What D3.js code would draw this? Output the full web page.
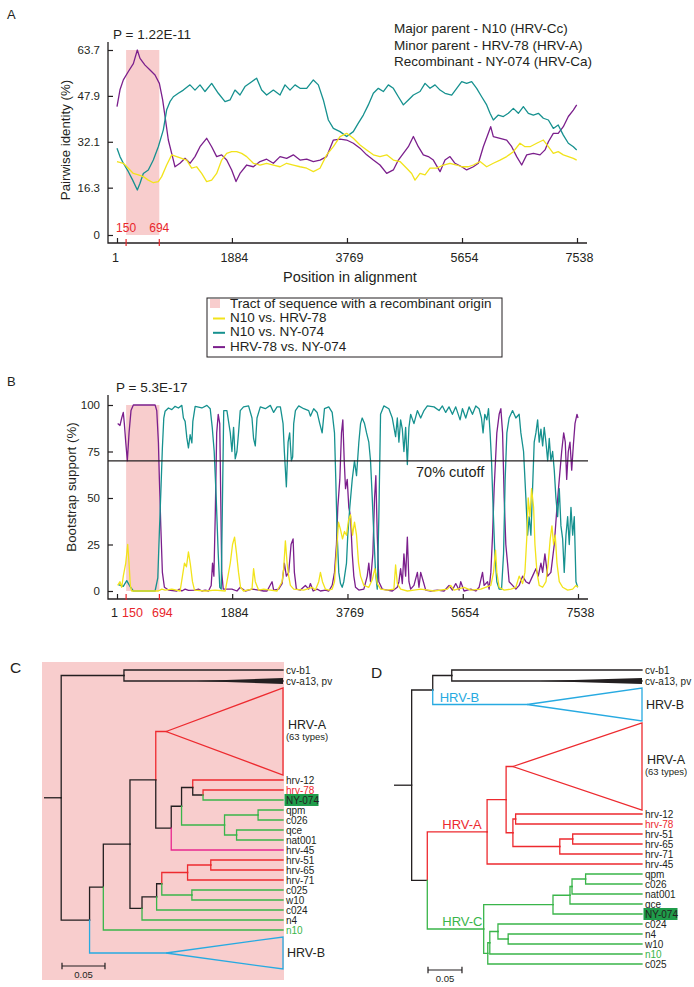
<!DOCTYPE html>
<html><head><meta charset="utf-8">
<script src="https://cdn.jsdelivr.net/npm/d3@7"></script>
<style>body{margin:0;background:#fff}svg{display:block;font-family:"Liberation Sans",Arial,sans-serif}</style>
</head><body><svg id="c" width="694" height="987"></svg>
<script>
// ---------------- DATA ----------------
const positionTicks = [1, 1884, 3769, 5654, 7538];
const tract = [150, 694];
const identityTicks = [0, 16.3, 32.1, 47.9, 63.7];
const bootTicks = [0, 25, 50, 75, 100];
const cutoff = 70;
const seriesNames = ["N10 vs. HRV-78", "N10 vs. NY-074", "HRV-78 vs. NY-074"];
const parentsText = ["Major parent - N10 (HRV-Cc)", "Minor parent - HRV-78 (HRV-A)", "Recombinant - NY-074 (HRV-Ca)"];
const pValueA = "P = 1.22E-11", pValueB = "P = 5.3E-17";

// Panel A: pairwise identity (%) vs position
const idN10_HRV78 = [[1,25.3],[105,24.7],[187,23],[269,21.2],[351,20.7],[432,20.1],[514,18.9],[596,18],[678,18.4],[733,20.1],[815,24.1],[897,27.6],[979,27],[1061,26.4],[1143,25.8],[1224,23],[1306,23.5],[1388,21.2],[1470,18.4],[1552,18.9],[1634,21.2],[1716,25.8],[1798,28.1],[1880,28.7],[1962,28.7],[2044,28.1],[2126,27],[2235,24.7],[2344,24.1],[2453,24.7],[2563,24.1],[2672,23.5],[2781,24.7],[2890,24.1],[3000,23.5],[3109,23],[3218,21.8],[3327,23],[3436,27.6],[3546,30.4],[3655,33.9],[3764,35],[3873,33.3],[3983,31],[4092,29.3],[4201,27.6],[4310,27],[4420,27.6],[4529,25.8],[4638,25.3],[4747,23],[4829,21.2],[4884,18.9],[4966,21.2],[5048,20.7],[5130,23],[5239,23],[5349,24.1],[5457,24.7],[5567,24.1],[5649,23.5],[5758,23.5],[5840,24.1],[5949,25.3],[6058,23.5],[6167,24.7],[6277,25.8],[6386,27],[6495,28.7],[6604,31.6],[6686,30.4],[6768,30.4],[6878,31.6],[6987,32.7],[7069,30.4],[7150,28.1],[7230,28.7],[7314,27.6],[7396,27],[7478,26.4],[7533,25.8]];
const idN10_NY074 = [[1,29.9],[50,27],[105,24.7],[187,21.8],[258,18.9],[334,15.5],[378,17.8],[432,21.2],[514,22.4],[596,25.8],[678,30.4],[760,36.2],[815,43.1],[869,45.9],[924,47.6],[1006,48.8],[1088,49.9],[1197,51.7],[1279,49.9],[1361,51.7],[1443,49.4],[1552,52.2],[1661,48.8],[1771,45.9],[1853,46.5],[1934,49.9],[2016,48.2],[2098,51.1],[2208,52.8],[2289,54],[2371,49.9],[2453,48.2],[2563,49.9],[2672,48.2],[2754,51.7],[2836,49.9],[2918,51.7],[3000,50.5],[3109,50.5],[3218,53.4],[3300,51.7],[3382,46.5],[3464,39.6],[3546,36.7],[3655,35.6],[3764,33.9],[3873,35.6],[3955,38.5],[4037,41.3],[4119,44.8],[4201,48.8],[4283,50.5],[4365,49.4],[4447,51.7],[4529,50.5],[4611,47.6],[4693,44.8],[4775,46.5],[4857,48.2],[4966,49.4],[5048,52.2],[5130,50.5],[5212,51.7],[5294,49.9],[5375,48.8],[5485,48.2],[5567,50.5],[5649,52.8],[5730,52.2],[5812,52.8],[5894,50.5],[5976,47.6],[6058,44.8],[6113,41.9],[6167,39.6],[6249,41.3],[6331,40.8],[6413,41.9],[6495,43.6],[6577,41.9],[6659,44.2],[6741,41.9],[6823,41.3],[6905,41.9],[6987,40.2],[7069,39.6],[7150,36.7],[7230,37.9],[7314,34.4],[7396,31.6],[7478,30.4],[7533,29.3]];
const idHRV78_NY074 = [[1,44.2],[50,50],[105,53.4],[187,56.3],[269,59],[334,63.7],[378,60.8],[460,58.5],[542,56.8],[624,55.1],[695,52.2],[749,46.5],[788,40.8],[842,32.7],[897,28.1],[951,23.5],[1033,24.7],[1115,26.4],[1197,24.7],[1279,27],[1361,30.4],[1470,33.3],[1552,30.4],[1634,27],[1716,27.6],[1798,25.8],[1880,22.4],[1951,18.4],[2016,21.2],[2126,24.1],[2235,23.5],[2344,25.3],[2453,26.1],[2563,24.7],[2672,27],[2781,26.4],[2890,27.6],[3000,25.8],[3109,26.1],[3218,25.3],[3327,25.8],[3436,27],[3546,32.7],[3655,33],[3764,32.7],[3873,31.6],[3983,29.9],[4092,27.6],[4201,25.8],[4310,24.1],[4420,21.2],[4529,22.4],[4611,25.8],[4693,28.1],[4775,30.4],[4857,33.9],[4938,30.4],[5020,27.6],[5102,27],[5184,25.8],[5294,21.8],[5375,25.8],[5457,27],[5539,24.7],[5649,23.5],[5730,22.4],[5840,23.5],[5922,24.7],[6003,30.4],[6085,35],[6124,37.3],[6167,33.9],[6277,33.3],[6386,32.7],[6468,30.4],[6550,27],[6632,24.1],[6714,27.6],[6823,28.1],[6932,27.6],[7014,29.3],[7069,32.1],[7150,35],[7230,35],[7314,37.3],[7396,40.8],[7478,43],[7533,44.8]];

// Panel B: bootstrap support (%) vs position
const bsN10_HRV78 = [[12,3],[50,5],[78,2],[104,8],[144,15],[176,25],[198,15],[219,3],[242,0],[678,0],[733,1],[787,0.5],[897,1],[1033,0],[1071,8],[1104,15],[1136,13],[1169,21],[1202,14],[1235,5],[1268,0.5],[1443,0],[1607,0.5],[1771,0],[1815,8],[1853,15],[1890,25],[1923,29],[1956,20],[1988,10],[2021,2],[2070,0],[2208,1],[2234,12],[2262,5],[2316,0.5],[2398,1],[2508,0.5],[2618,0],[2700,5],[2726,12],[2754,27],[2782,15],[2808,8],[2836,3],[2890,1],[3054,0.5],[3191,2],[3245,0.5],[3299,5],[3327,10],[3360,5],[3409,1],[3463,0.5],[3519,1],[3557,5],[3589,20],[3622,37],[3655,33],[3688,28],[3720,32],[3753,30],[3786,38],[3819,41],[3852,30],[3884,37],[3917,30],[3950,15],[3983,8],[4037,3],[4118,2],[4174,6],[4217,12],[4256,4],[4310,1],[4420,0.5],[4528,1],[4556,14],[4584,4],[4638,1],[4748,0],[4856,0.5],[4966,1],[5184,0],[5403,1],[5457,3],[5511,0.5],[5675,2],[5785,0.5],[5949,1],[6113,3],[6157,10],[6190,22],[6211,10],[6249,2],[6331,0.5],[6441,1],[6522,2],[6576,8],[6632,4],[6670,10],[6703,30],[6724,50],[6752,40],[6779,55],[6812,45],[6834,25],[6867,10],[6904,3],[6960,2],[7014,5],[7051,15],[7084,28],[7112,35],[7139,25],[7166,30],[7194,15],[7232,5],[7287,2],[7369,0.5],[7451,1],[7505,3],[7538,2]];
const bsN10_NY074 = [[22,3.4],[104,2.5],[160,5.6],[214,2.5],[268,0],[624,0],[668,7],[694,32],[722,57],[743,77],[766,93],[787,96.6],[842,98.4],[897,97.5],[951,99.3],[1005,98.4],[1061,99.8],[1087,93],[1115,91.2],[1143,82.3],[1169,76.9],[1197,84],[1225,79.6],[1241,91.2],[1279,99.3],[1389,98.4],[1471,99.8],[1525,98],[1558,88],[1590,75],[1623,50],[1656,20],[1681,2],[1705,1],[1730,60],[1746,97],[1798,97],[1853,85],[1880,75],[1907,88],[1934,71],[1962,75],[1988,85],[2016,97],[2070,99],[2152,99.5],[2208,93],[2234,82],[2262,78],[2290,93],[2344,99],[2426,98],[2508,99.8],[2562,96],[2618,99],[2672,99],[2716,90],[2737,75],[2770,56],[2798,80],[2824,85],[2852,70],[2873,72],[2890,90],[2918,97],[2972,99.5],[3054,98],[3135,97],[3163,94],[3217,98],[3273,96],[3316,90],[3355,85],[3393,98],[3463,99],[3519,96],[3557,85],[3578,60],[3601,30],[3627,10],[3655,4],[3683,2],[3709,5],[3753,15],[3774,30],[3807,45],[3847,60],[3884,70],[3917,62],[3955,80],[3983,90],[4010,93],[4048,90],[4081,85],[4118,80],[4146,70],[4174,50],[4200,30],[4228,10],[4256,1],[4282,40],[4310,95],[4364,99.5],[4446,98],[4502,93],[4556,83],[4584,93],[4610,80],[4638,92],[4666,87],[4692,75],[4720,88],[4748,68],[4774,88],[4802,95],[4856,90],[4912,97],[4966,93],[5020,97],[5075,99.5],[5184,99],[5266,97],[5321,99.5],[5375,96],[5429,99],[5485,95],[5539,99],[5610,92],[5649,98],[5703,93],[5757,99],[5813,95],[5867,99.5],[5921,98],[5960,93],[5986,85],[6014,95],[6047,92],[6075,98],[6101,85],[6124,70],[6150,45],[6178,20],[6211,5],[6249,1],[6288,1],[6321,20],[6347,60],[6375,85],[6412,93],[6468,97],[6522,93],[6576,95],[6604,85],[6648,75],[6686,50],[6714,30],[6740,40],[6768,30],[6795,55],[6822,80],[6850,85],[6878,92],[6904,80],[6932,87],[6960,78],[6986,88],[7014,80],[7042,70],[7068,82],[7095,70],[7123,75],[7150,65],[7177,50],[7205,40],[7232,55],[7259,35],[7287,28],[7313,10],[7341,30],[7369,40],[7395,25],[7423,45],[7451,30],[7477,40],[7505,5],[7533,2]];
const bsHRV78_NY074 = [[12,90],[50,89],[78,93],[104,96],[121,90],[144,80],[170,70],[198,85],[230,97],[268,100],[624,100],[651,97],[678,80],[694,60],[717,35],[743,10],[776,2],[842,0.5],[979,0],[1017,1],[1061,0],[1115,1],[1169,0.3],[1279,0.5],[1333,1],[1389,0],[1443,0.5],[1497,0],[1541,3],[1563,15],[1585,8],[1607,40],[1631,85],[1656,95],[1681,90],[1697,50],[1713,10],[1738,1],[1880,1],[1962,0],[2016,2],[2098,0],[2208,1],[2316,0.5],[2398,0],[2454,0],[2536,5],[2562,0.5],[2644,1],[2700,4],[2737,15],[2770,8],[2808,10],[2847,25],[2880,28],[2901,10],[2934,1],[2999,0.5],[3081,3],[3135,1],[3163,4],[3208,0],[3273,1],[3327,0],[3409,0.5],[3463,0],[3519,3],[3557,10],[3589,25],[3611,45],[3644,60],[3671,85],[3693,92],[3716,70],[3737,55],[3765,60],[3791,45],[3819,40],[3847,20],[3873,8],[3901,2],[3955,0.5],[4037,1],[4092,8],[4118,15],[4146,5],[4184,20],[4212,50],[4233,62],[4256,30],[4282,5],[4338,1],[4420,0.5],[4502,0],[4584,2],[4610,5],[4638,12],[4666,4],[4692,20],[4720,8],[4748,29],[4774,5],[4802,1],[4856,3],[4912,10],[4938,2],[4966,10],[5010,5],[5048,0.5],[5130,0],[5240,0.5],[5348,0],[5430,3],[5485,0.5],[5539,4],[5593,0.5],[5621,5],[5675,0],[5785,1],[5867,0],[5921,2],[5977,10],[6003,3],[6059,5],[6085,1],[6113,10],[6141,30],[6167,55],[6211,85],[6249,95],[6277,98],[6305,85],[6331,50],[6358,25],[6386,15],[6412,5],[6468,3],[6522,1],[6576,3],[6632,8],[6686,5],[6740,4],[6795,8],[6850,12],[6888,8],[6932,15],[6960,10],[6997,20],[7042,8],[7095,10],[7150,25],[7194,45],[7232,60],[7271,75],[7304,85],[7330,80],[7353,60],[7379,75],[7407,80],[7435,65],[7461,78],[7489,90],[7521,95],[7538,93]];

// Panel C tree (node depth d in substitutions/site; leaf row = tip order)
const treeC = {d:0.020, c:[
  {d:0.093, c:[{n:"cv-b1", row:0}, {n:"cv-a13, pv", row:1.1, wedge:0.178}]},
  {d:0.053, c:[
    {d:0.069, c:[
      {d:0.100, c:[
        {d:0.130, c:[
          {clade:"HRV-A", sub:"(63 types)", rows:[1.8,10.5], d:0.142, g:"A"},
          {d:0.148, c:[
            {d:0.160, c:[
              {d:0.173, c:[{n:"hrv-12", row:11, g:"A"},
                {d:0.185, c:[{n:"hrv-78", row:12, g:"A", lab:"A"}, {n:"NY-074", row:13, g:"C", hl:true}]}]},
              {d:0.210, g:"C", c:[
                {d:0.249, g:"C", c:[{n:"qpm", row:14, g:"C"}, {n:"c026", row:15, g:"C"}]},
                {d:0.224, g:"C", c:[{n:"qce", row:16, g:"C"}, {n:"nat001", row:17, g:"C"}]}]}]},
            {n:"hrv-45", row:18, g:"M"}]}]},
        {d:0.114, c:[
          {d:0.131, c:[
            {d:0.137, c:[
              {d:0.167, g:"A", c:[{d:0.194, g:"A", c:[{n:"hrv-51", row:19, g:"A"}, {n:"hrv-65", row:20, g:"A"}]}, {n:"hrv-71", row:21, g:"A"}]},
              {d:0.172, g:"C", c:[{n:"c025", row:22, g:"C"}, {n:"w10", row:23, g:"C"}]}]},
            {n:"c024", row:24, g:"C"}]},
          {n:"n4", row:25, g:"C"}]}]},
      {n:"n10", row:26, g:"C", lab:"C"}]},
    {clade:"HRV-B", rows:[26.7,29.9], d:0.142, g:"B"}]}]};
const tipDepthC = 0.278;

// Panel D tree
const treeD = {d:0.026, c:[
  {d:0.057, c:[
    {d:0.085, c:[{n:"cv-b1", row:0}, {n:"cv-a13, pv", row:1.1, wedge:0.215}]},
    {clade:"HRV-B", rows:[1.8,5.1], d:0.196, g:"B", bl:"HRV-B"}]},
  {d:0.049, c:[
    {d:0.137, g:"A", bl:"HRV-A", c:[
      {d:0.165, g:"A", c:[
        {clade:"HRV-A", sub:"(63 types)", rows:[5.3,14.0], d:0.175, g:"A"},
        {d:0.175, g:"A", c:[
          {d:0.179, g:"A", c:[{n:"hrv-12", row:14.4, g:"A"}, {n:"hrv-78", row:15.4, g:"A", lab:"A"}]},
          {d:0.244, g:"A", c:[{d:0.263, g:"A", c:[{n:"hrv-51", row:16.4, g:"A"}, {n:"hrv-65", row:17.4, g:"A"}]}, {n:"hrv-71", row:18.4, g:"A"}]}]}]},
      {n:"hrv-45", row:19.4, g:"A"}]},
    {d:0.132, g:"C", bl:"HRV-C", c:[
      {d:0.234, g:"C", c:[
        {d:0.259, g:"C", c:[
          {d:0.262, g:"C", c:[{d:0.282, g:"C", c:[{n:"qpm", row:20.4, g:"C"}, {n:"c026", row:21.4, g:"C"}]}, {n:"nat001", row:22.4, g:"C"}]},
          {n:"qce", row:23.4, g:"C"}]},
        {n:"NY-074", row:24.4, g:"C", hl:true}]},
      {d:0.138, g:"C", c:[
        {d:0.141, g:"C", c:[
          {d:0.153, g:"C", c:[{n:"c024", row:25.4, g:"C"}, {d:0.168, g:"C", c:[{n:"n4", row:26.4, g:"C"}, {n:"w10", row:27.4, g:"C"}]}]},
          {n:"n10", row:28.4, g:"C", lab:"C"}]},
        {n:"c025", row:29.4, g:"C"}]}]}]}]};
const tipDepthD = 0.365;
const scaleBarLen = 0.05;

// ---------------- STYLE ----------------
const PINK = "#f8cdcd";
const INK = "#231f20";
const lineColors = ["#f2e31b", "#16918f", "#7b1f8c"];
const groupColor = {k:INK, A:"#ed2a2f", B:"#27aae1", C:"#3ab54a", M:"#e8288e"};
const HL = "#1f9c4a";

const svg = d3.select("#c");
svg.append("rect").attr("width",694).attr("height",987).attr("fill","#fff");

function txt(g, x, y, s, size, opts={}) {
  const t = g.append("text").attr("x",x).attr("y",y).text(s)
    .attr("font-size",size).attr("fill",opts.fill||INK);
  if (opts.anchor) t.attr("text-anchor",opts.anchor);
  if (opts.dy) t.attr("dy",opts.dy);
  return t;
}
function styleAxis(g, size) {
  g.select(".domain").remove();
  g.attr("font-family",null).attr("font-size",null);
  g.selectAll("line").attr("stroke",INK).attr("stroke-width",1.2);
  g.selectAll("text").attr("font-size",size).attr("fill",INK);
}
const fmtInt = d3.format("d");

// ---------------- PANEL A ----------------
const xA = d3.scaleLinear().domain([1,7538]).range([117,577]);
const yA = d3.scaleLinear().domain([0,63.7]).range([235,50]);
const gA = svg.append("g");
gA.append("rect").attr("x",xA(tract[0])).attr("width",xA(tract[1])-xA(tract[0]))
  .attr("y",yA(63.7)).attr("height",yA(0)-yA(63.7)).attr("fill",PINK);
const lineA = d3.line().x(d=>xA(d[0])).y(d=>yA(d[1]));
[[idHRV78_NY074,2],[idN10_NY074,1],[idN10_HRV78,0]].forEach(([s,i])=>{
  gA.append("path").attr("d",lineA(s)).attr("fill","none").attr("stroke",lineColors[i])
    .attr("stroke-width",1.3).attr("stroke-linejoin","round");
});
gA.append("g").attr("transform","translate(108,0)")
  .call(d3.axisLeft(yA).tickValues(identityTicks).tickFormat(d=>String(d)).tickSize(-5).tickPadding(8))
  .call(g=>styleAxis(g,11.5));
gA.append("g").attr("transform","translate(0,243)")
  .call(d3.axisBottom(xA).tickValues(positionTicks).tickFormat(fmtInt).tickSize(-5).tickPadding(10))
  .call(g=>styleAxis(g,12.5))
  .call(g=>g.selectAll("text").attr("dx",d=>d===1?-2:2));
gA.append("path").attr("d","M108,42V243H587").attr("fill","none").attr("stroke",INK).attr("stroke-width",1.3);
tract.forEach(v=>{
  gA.append("line").attr("x1",xA(v)).attr("x2",xA(v)).attr("y1",239).attr("y2",246).attr("stroke","#e8262b").attr("stroke-width",1.2);
  txt(gA, xA(v), 232, String(v), 12, {anchor:"middle", fill:"#e8262b"});
});
txt(gA, 7, 19, "A", 13);
txt(gA, 113, 39, pValueA, 13.5);
parentsText.forEach((s,i)=>txt(gA, 394, 33+i*16.5, s, 13.5));
txt(gA, 350, 282, "Position in alignment", 14.5, {anchor:"middle"});
txt(gA, 0, 0, "Pairwise identity (%)", 13.3, {anchor:"middle"}).attr("transform","translate(70,140) rotate(-90)");

// Legend
const gL = svg.append("g");
gL.append("rect").attr("x",207).attr("y",298).attr("width",295).attr("height",59)
  .attr("fill","#fff").attr("stroke",INK).attr("stroke-width",1);
gL.append("rect").attr("x",210).attr("y",299).attr("width",10).attr("height",9).attr("fill",PINK);
txt(gL, 230, 307.5, "Tract of sequence with a recombinant origin", 13.5);
seriesNames.forEach((s,i)=>{
  const y = 322 + i*14.3;
  gL.append("line").attr("x1",213).attr("x2",225).attr("y1",y-3.5).attr("y2",y-3.5)
    .attr("stroke",lineColors[i]).attr("stroke-width",2);
  txt(gL, 230, y, s, 13.5);
});

// ---------------- PANEL B ----------------
const xB = d3.scaleLinear().domain([1,7538]).range([117,578]);
const yB = d3.scaleLinear().domain([0,100]).range([591,405]);
const gB = svg.append("g");
gB.append("rect").attr("x",xB(tract[0])).attr("width",xB(tract[1])-xB(tract[0]))
  .attr("y",yB(100)).attr("height",yB(0)-yB(100)).attr("fill",PINK);
const lineB = d3.line().x(d=>xB(d[0])).y(d=>yB(d[1]));
[[bsHRV78_NY074,2],[bsN10_NY074,1],[bsN10_HRV78,0]].forEach(([s,i])=>{
  gB.append("path").attr("d",lineB(s)).attr("fill","none").attr("stroke",lineColors[i])
    .attr("stroke-width",1.3).attr("stroke-linejoin","round");
});
gB.append("line").attr("x1",108).attr("x2",588).attr("y1",yB(cutoff)).attr("y2",yB(cutoff))
  .attr("stroke",INK).attr("stroke-width",1.3);
txt(gB, 416, 477, cutoff + "% cutoff", 14.5);
gB.append("g").attr("transform","translate(108,0)")
  .call(d3.axisLeft(yB).tickValues(bootTicks).tickSize(-5).tickPadding(8))
  .call(g=>styleAxis(g,11.5));
gB.append("g").attr("transform","translate(0,599)")
  .call(d3.axisBottom(xB).tickValues(positionTicks).tickFormat(fmtInt).tickSize(-5).tickPadding(9.5))
  .call(g=>styleAxis(g,12.5))
  .call(g=>g.selectAll("text").attr("dx",d=>d===1?-3:2));
gB.append("path").attr("d","M108,395V599H588").attr("fill","none").attr("stroke",INK).attr("stroke-width",1.3);
tract.forEach((v,i)=>{
  gB.append("line").attr("x1",xB(v)).attr("x2",xB(v)).attr("y1",594).attr("y2",600).attr("stroke","#e8262b").attr("stroke-width",1.2);
  txt(gB, i===0?xB(v)-4:xB(v)+3, 617, String(v), 12.5, {anchor:i===0?"start":"middle", fill:"#e8262b"});
});
txt(gB, 7, 386, "B", 13);
txt(gB, 116, 392, pValueB, 13.5);
txt(gB, 0, 0, "Bootstrap support (%)", 13.3, {anchor:"middle"}).attr("transform","translate(76,487) rotate(-90)");

// ---------------- TREES ----------------
function layoutTree(node, yS) {
  if (node.c) { node.c.forEach(ch=>layoutTree(ch,yS)); node.y = (node.c[0].y + node.c[node.c.length-1].y)/2; }
  else if (node.rows) node.y = yS((node.rows[0]+node.rows[1])/2);
  else node.y = yS(node.row);
}
function drawTree(g, tree, xS, yS, tipDepth) {
  layoutTree(tree, yS);
  const tipX = xS(tipDepth);
  const sw = 1.3;
  g.append("path").attr("d",`M${xS(0)},${tree.y}H${xS(tree.d)}`).attr("stroke",INK).attr("stroke-width",sw).attr("fill","none");
  (function rec(node){
    const px = xS(node.d);
    node.c.forEach(ch=>{
      const col = groupColor[ch.g||"k"];
      const cx = (ch.c || ch.rows) ? xS(ch.d) : tipX;
      g.append("path").attr("d",`M${px},${node.y}V${ch.y}H${cx}`).attr("stroke",col)
        .attr("stroke-width",sw).attr("fill","none").attr("stroke-linecap","square");
      if (ch.bl) {
        txt(g, px + (ch.bl==="HRV-B"?7:15), ch.y - 2.8, ch.bl, 13, {fill:col});
      }
      if (ch.c) rec(ch);
      else if (ch.rows) {
        g.append("path").attr("d",`M${cx},${ch.y}L${tipX},${yS(ch.rows[0])}L${tipX},${yS(ch.rows[1])}Z`)
          .attr("stroke",col).attr("stroke-width",sw).attr("fill","none").attr("stroke-linejoin","miter");
        if (ch.sub) {
          txt(g, tipX+24, ch.y-3, ch.clade, 12.5, {anchor:"middle"});
          txt(g, tipX+24, ch.y+8.5, ch.sub, 9.5, {anchor:"middle"});
        } else {
          txt(g, tipX+4, ch.y, ch.clade, 12.5, {dy:"0.35em"});
        }
      } else {
        if (ch.wedge) {
          g.append("path").attr("d",`M${xS(ch.wedge)},${ch.y}L${tipX},${ch.y-3}L${tipX},${ch.y+3}Z`).attr("fill",INK);
        }
        if (ch.hl) g.append("rect").attr("x",tipX+1.5).attr("y",ch.y-6).attr("width",34).attr("height",12).attr("fill",HL);
        txt(g, tipX+3, ch.y, ch.n, 10, {dy:"0.35em", fill: ch.lab ? groupColor[ch.lab] : INK});
      }
    });
  })(tree);
}
function scaleBar(g, xS, x0, y) {
  const w = xS(scaleBarLen) - xS(0);
  g.append("path").attr("d",`M${x0},${y-3.3}V${y+3.3}M${x0},${y}H${x0+w}M${x0+w},${y-3.3}V${y+3.3}`)
    .attr("stroke",INK).attr("stroke-width",1.2).attr("fill","none");
  txt(g, x0+w/2, y+11.5, String(scaleBarLen), 9.5, {anchor:"middle"});
}

// Panel C
const gC = svg.append("g");
gC.append("rect").attr("x",42).attr("y",662).attr("width",242).attr("height",318).attr("fill",PINK);
const xC = d3.scaleLinear().domain([0,tipDepthC]).range([44,283]);
const yT = d3.scaleLinear().domain([0,1]).range([670,680]);
drawTree(gC, treeC, xC, yT, tipDepthC);
scaleBar(gC, xC, 62, 966);
txt(gC, 10, 673, "C", 15.5);

// Panel D
const gD = svg.append("g");
const xD = d3.scaleLinear().domain([0,tipDepthD]).range([394,642]);
drawTree(gD, treeD, xD, yT, tipDepthD);
scaleBar(gD, xD, 428, 970);
txt(gD, 371, 678, "D", 15.5);
</script>
</body></html>
